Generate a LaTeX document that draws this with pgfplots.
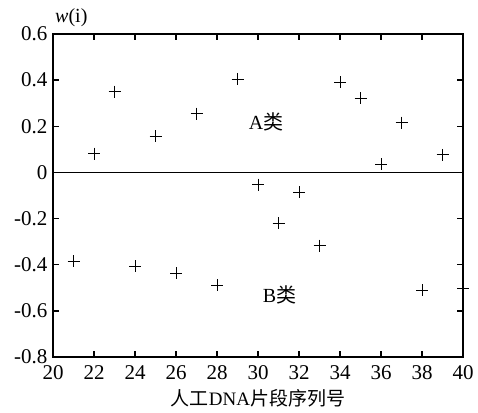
\documentclass[border=0pt]{standalone}
\usepackage{fontspec}
\setmainfont{Liberation Serif}
\newfontfamily\cjk{Noto Sans CJK SC}
\usepackage{pgfplots}
\pgfplotsset{compat=1.18}
\begin{document}
\begin{tikzpicture}
\useasboundingbox (-53pt,-55pt) rectangle (425pt,357pt);
\begin{axis}[
  scale only axis, width=410pt, height=323pt,
  xmin=20, xmax=40, ymin=-0.8, ymax=0.6,
  xtick={20,22,...,40},
  ytick={-0.8,-0.6,-0.4,-0.2,0,0.2,0.4,0.6},
  yticklabels={-0.8,-0.6,-0.4,-0.2,0,0.2,0.4,0.6},
  tick pos=both, tick align=inside,
  major tick length=6pt,
  axis line style={line width=1.6pt},
  tick style={line width=1.3pt, black},
  ticklabel style={font=\fontsize{21}{23}\selectfont},
  /pgf/number format/assume math mode=true,
  xticklabel style={yshift=-5pt},
  yticklabel style={xshift=-2pt},
  xlabel={\fontsize{19}{21}\selectfont{\cjk 人工}DNA{\cjk 片段序列号}},
  xlabel style={yshift=-3pt},
  clip=false,
]
\addplot[black, line width=1.6pt, no marks] coordinates {(20,0) (40,0)};
\addplot[only marks, mark=+, mark size=6pt, mark options={line width=0.8pt, black}] coordinates {
(21,-0.386) (22,0.082) (23,0.350) (24,-0.406) (25,0.156) (26,-0.436)
(27,0.255) (28,-0.490) (29,0.405) (30,-0.053) (31,-0.220) (32,-0.086)
(33,-0.317) (34,0.391) (35,0.321) (36,0.036) (37,0.216) (38,-0.511)
(39,0.076) (40,-0.503)
};
\node[font=\fontsize{20}{22}\selectfont] at (axis cs:30.4,0.22) {A{\cjk 类}};
\node[font=\fontsize{20}{22}\selectfont] at (axis cs:31.05,-0.53) {B{\cjk 类}};
\node[anchor=south west, font=\fontsize{20}{22}\selectfont, inner sep=0pt] at ([xshift=2pt,yshift=7pt]rel axis cs:0,1) {\textit{w}(i)};
\end{axis}
\end{tikzpicture}
\end{document}
